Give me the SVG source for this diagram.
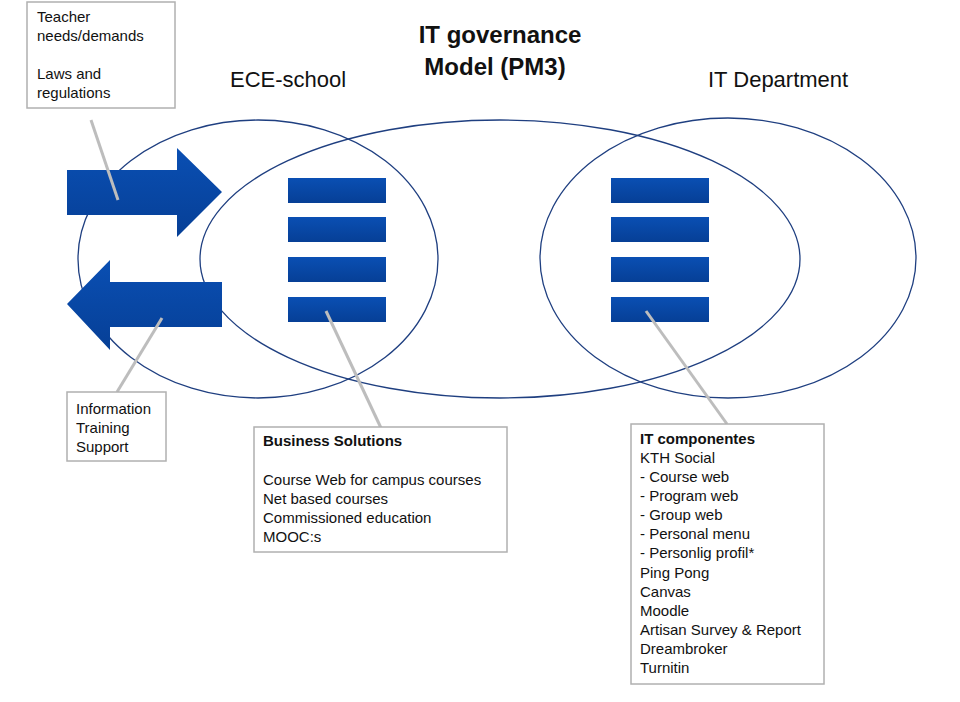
<svg xmlns="http://www.w3.org/2000/svg" width="960" height="702" viewBox="0 0 960 702">
<defs>
<linearGradient id="g" x1="0" y1="0" x2="0" y2="1"><stop offset="0" stop-color="#0a4fb3"/><stop offset="1" stop-color="#063f96"/></linearGradient>
<style>
.t{font-family:"Liberation Sans",Arial,sans-serif;fill:#111}
.box{fill:#fff;stroke:#b0b0b0;stroke-width:1.5}
.ell{fill:none;stroke:#1f3f80;stroke-width:1.3}
.bar{fill:url(#g)}
.ln{stroke:#bdbdbd;stroke-width:3;fill:none}
</style>
</defs>
<rect width="960" height="702" fill="#fff"/>
<g id="ellipses">
<ellipse class="ell" cx="258" cy="259" rx="180" ry="139"/>
<ellipse class="ell" cx="500" cy="259" rx="300" ry="139"/>
<ellipse class="ell" cx="728" cy="258" rx="188" ry="140"/>
</g>
<g id="arrows">
<polygon class="bar" points="67,170 177,170 177,148 222,192 177,237 177,215 67,215"/>
<polygon class="bar" points="222,282 110,282 110,260 67,304 110,350 110,327 222,327"/>
</g>
<g id="bars-left">
<rect class="bar" x="288" y="178" width="98" height="25"/>
<rect class="bar" x="288" y="217" width="98" height="25"/>
<rect class="bar" x="288" y="257" width="98" height="25"/>
<rect class="bar" x="288" y="297" width="98" height="25"/>
</g>
<g id="bars-right">
<rect class="bar" x="611" y="178" width="98" height="25"/>
<rect class="bar" x="611" y="217" width="98" height="25"/>
<rect class="bar" x="611" y="257" width="98" height="25"/>
<rect class="bar" x="611" y="297" width="98" height="25"/>
</g>
<g id="connectors">
<line class="ln" x1="91" y1="120" x2="118" y2="200"/>
<line class="ln" x1="162" y1="318" x2="117" y2="392"/>
<line class="ln" x1="326" y1="311" x2="381" y2="428"/>
<line class="ln" x1="646" y1="311" x2="727" y2="424"/>
</g>
<g id="titles">
<text class="t" x="500" y="43" text-anchor="middle" font-size="24" font-weight="bold">IT governance</text>
<text class="t" x="495" y="75" text-anchor="middle" font-size="24" font-weight="bold">Model (PM3)</text>
<text class="t" x="230" y="87" font-size="22">ECE-school</text>
<text class="t" x="708" y="87" font-size="22">IT Department</text>
</g>
<g id="teacher">
<rect class="box" x="27" y="2" width="148" height="106"/>
<text class="t" font-size="15"><tspan x="37" y="22">Teacher</tspan><tspan x="37" y="41">needs/demands</tspan><tspan x="37" y="79">Laws and</tspan><tspan x="37" y="98">regulations</tspan></text>
</g>
<g id="info">
<rect class="box" x="67" y="392" width="99" height="69"/>
<text class="t" font-size="15"><tspan x="76" y="414">Information</tspan><tspan x="76" y="433">Training</tspan><tspan x="76" y="452">Support</tspan></text>
</g>
<g id="business">
<rect class="box" x="254" y="427" width="253" height="125"/>
<text class="t" font-size="15"><tspan x="263" y="446" font-weight="bold">Business Solutions</tspan><tspan x="263" y="485">Course Web for campus courses</tspan><tspan x="263" y="504">Net based courses</tspan><tspan x="263" y="523">Commissioned education</tspan><tspan x="263" y="542">MOOC:s</tspan></text>
</g>
<g id="itcomp">
<rect class="box" x="631" y="424" width="193" height="260"/>
<text class="t" font-size="15"><tspan x="640" y="444" font-weight="bold">IT componentes</tspan><tspan x="640" y="463">KTH Social</tspan><tspan x="640" y="482">-  Course web</tspan><tspan x="640" y="501">-  Program web</tspan><tspan x="640" y="520">-  Group web</tspan><tspan x="640" y="539">-  Personal menu</tspan><tspan x="640" y="558">-  Personlig profil*</tspan><tspan x="640" y="578">Ping Pong</tspan><tspan x="640" y="597">Canvas</tspan><tspan x="640" y="616">Moodle</tspan><tspan x="640" y="635">Artisan Survey &amp; Report</tspan><tspan x="640" y="654">Dreambroker</tspan><tspan x="640" y="673">Turnitin</tspan></text>
</g>
</svg>
